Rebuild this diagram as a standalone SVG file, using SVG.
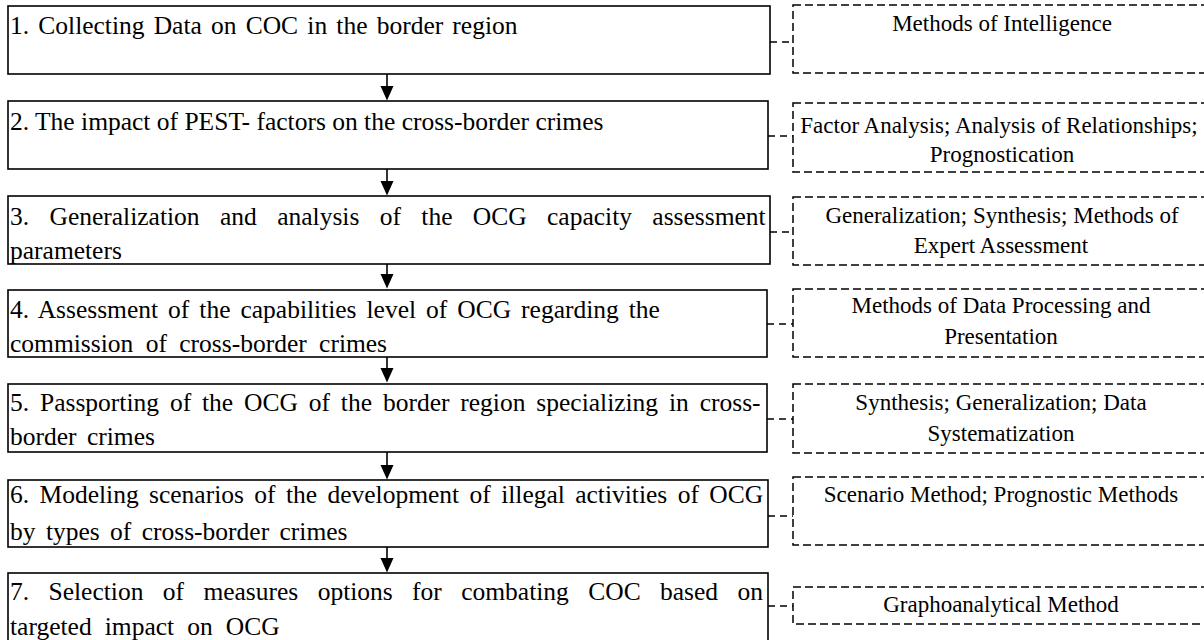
<svg xmlns="http://www.w3.org/2000/svg" width="1204" height="640" viewBox="0 0 1204 640">
<defs>
<style>
.box{fill:#fff;stroke:#000;stroke-width:1.6}
.dbox{fill:#fff;stroke:#000;stroke-width:1.5;stroke-dasharray:8 4}
.link{stroke:#000;stroke-width:1.5;stroke-dasharray:7 5;fill:none}
.flow{stroke:#000;stroke-width:1.6;fill:none}
.head{fill:#000}
.lt{font-family:"Liberation Serif","Times New Roman",serif;font-size:25.5px;fill:#000}
.rt{font-family:"Liberation Serif","Times New Roman",serif;font-size:23px;fill:#000;text-anchor:middle}
</style>
</defs>
<rect width="1204" height="640" fill="#fff"/>

<g id="connectors">
<line class="flow" x1="387" y1="74" x2="387" y2="88"/>
<path class="head" d="M380.5,86 L393.5,86 L387,100.5 Z"/>
<line class="flow" x1="387" y1="169" x2="387" y2="183"/>
<path class="head" d="M380.5,181 L393.5,181 L387,195.5 Z"/>
<line class="flow" x1="387" y1="264" x2="387" y2="276"/>
<path class="head" d="M380.5,274 L393.5,274 L387,288.5 Z"/>
<line class="flow" x1="387" y1="357" x2="387" y2="370"/>
<path class="head" d="M380.5,368 L393.5,368 L387,382.5 Z"/>
<line class="flow" x1="387" y1="452" x2="387" y2="467"/>
<path class="head" d="M380.5,465 L393.5,465 L387,479.5 Z"/>
<line class="flow" x1="387" y1="547" x2="387" y2="560"/>
<path class="head" d="M380.5,558 L393.5,558 L387,572.5 Z"/>
<line class="link" x1="770" y1="42" x2="793" y2="42"/>
<line class="link" x1="768" y1="136" x2="793" y2="136"/>
<line class="link" x1="770" y1="232" x2="793" y2="232"/>
<line class="link" x1="767" y1="324" x2="793" y2="324"/>
<line class="link" x1="767" y1="419" x2="793" y2="419"/>
<line class="link" x1="768" y1="516" x2="793" y2="516"/>
<line class="link" x1="768" y1="606" x2="793" y2="606"/>
</g>

<g id="step1">
<rect class="box" x="8" y="6" width="762" height="68"/>
<text class="lt" x="10" y="34" word-spacing="2.8">1. Collecting Data on COC in the border region</text>
</g>
<g id="step2">
<rect class="box" x="8" y="101" width="760" height="68"/>
<text class="lt" x="10" y="130">2. The impact of PEST- factors on the cross-border crimes</text>
</g>
<g id="step3">
<rect class="box" x="8" y="196" width="762" height="68"/>
<text class="lt" x="10" y="225" word-spacing="14">3. Generalization and analysis of the OCG capacity assessment</text>
<text class="lt" x="10" y="259">parameters</text>
</g>
<g id="step4">
<rect class="box" x="8" y="290" width="759" height="67"/>
<text class="lt" x="10" y="318" word-spacing="3.6">4. Assessment of the capabilities level of OCG regarding the</text>
<text class="lt" x="10" y="352" word-spacing="6">commission of cross-border crimes</text>
</g>
<g id="step5">
<rect class="box" x="8" y="384" width="759" height="68"/>
<text class="lt" x="10" y="411" word-spacing="4.5">5. Passporting of the OCG of the border region specializing in cross-</text>
<text class="lt" x="10" y="445" word-spacing="4">border crimes</text>
</g>
<g id="step6">
<rect class="box" x="8" y="480" width="760" height="67"/>
<text class="lt" x="10" y="503" word-spacing="4">6. Modeling scenarios of the development of illegal activities of OCG</text>
<text class="lt" x="10" y="540" word-spacing="4">by types of cross-border crimes</text>
</g>
<g id="step7">
<rect class="box" x="8" y="573" width="760" height="70"/>
<text class="lt" x="10" y="600" word-spacing="13">7. Selection of measures options for combating COC based on</text>
<text class="lt" x="10" y="635" word-spacing="6.7">targeted impact on OCG</text>
</g>

<g id="method1">
<rect class="dbox" x="793" y="5" width="419" height="68"/>
<text class="rt" x="1002" y="31">Methods of Intelligence</text>
</g>
<g id="method2">
<rect class="dbox" x="793" y="103" width="419" height="69"/>
<text class="rt" x="999" y="133">Factor Analysis; Analysis of Relationships;</text>
<text class="rt" x="1002" y="162">Prognostication</text>
</g>
<g id="method3">
<rect class="dbox" x="793" y="197" width="419" height="68"/>
<text class="rt" x="1002" y="223">Generalization; Synthesis; Methods of</text>
<text class="rt" x="1001" y="253">Expert Assessment</text>
</g>
<g id="method4">
<rect class="dbox" x="793" y="289" width="419" height="68"/>
<text class="rt" x="1001" y="313">Methods of Data Processing and</text>
<text class="rt" x="1001" y="344">Presentation</text>
</g>
<g id="method5">
<rect class="dbox" x="793" y="384" width="419" height="69"/>
<text class="rt" x="1001" y="410">Synthesis; Generalization; Data</text>
<text class="rt" x="1001" y="441">Systematization</text>
</g>
<g id="method6">
<rect class="dbox" x="793" y="477" width="419" height="68"/>
<text class="rt" x="1001" y="502">Scenario Method; Prognostic Methods</text>
</g>
<g id="method7">
<rect class="dbox" x="793" y="587" width="419" height="37"/>
<text class="rt" x="1001" y="612">Graphoanalytical Method</text>
</g>
</svg>
